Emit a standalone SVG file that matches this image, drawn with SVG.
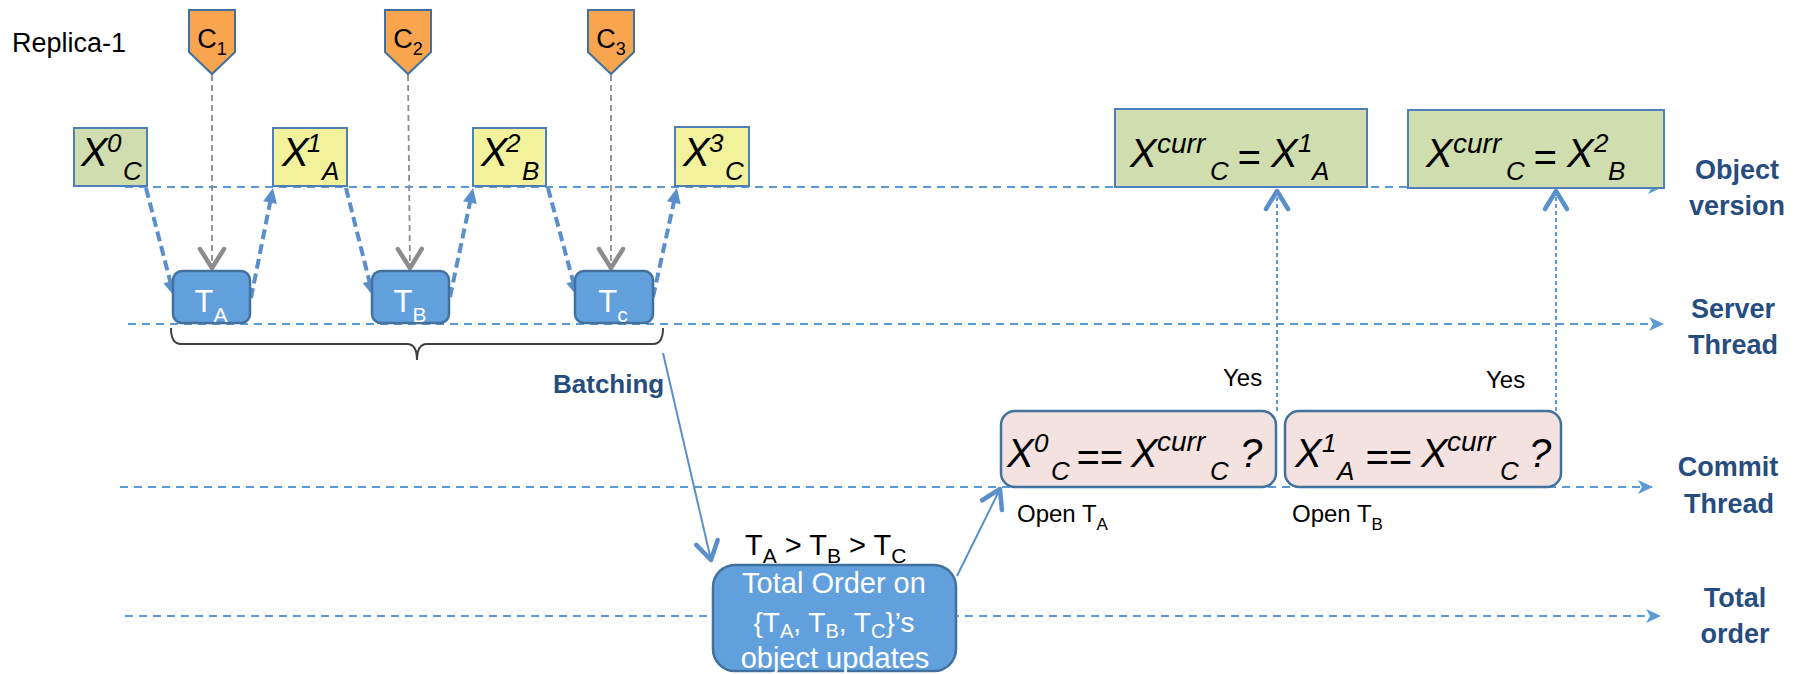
<svg xmlns="http://www.w3.org/2000/svg" width="1797" height="674" viewBox="0 0 1797 674">
<defs>
<style>
  text { font-family: "Liberation Sans", Arial, sans-serif; fill: #000; }
  .lane { fill: none; stroke: #5b9bd5; stroke-width: 2; stroke-dasharray: 8 6; }
  .flow { fill: none; stroke: #5b8fcb; stroke-width: 4; stroke-dasharray: 10 5; }
  .req { fill: none; stroke: #8c8c8c; stroke-width: 1.8; stroke-dasharray: 6 4; }
  .yes { fill: none; stroke: #5b9bd5; stroke-width: 2; stroke-dasharray: 4 3; }
  .thin { fill: none; stroke: #5b8fcb; stroke-width: 2; }
  .brace { fill: none; stroke: #404040; stroke-width: 2; }
  .ver { stroke: #4f7fb8; stroke-width: 2; }
  .green { fill: #d0ddae; }
  .yellow { fill: #f1f29b; }
  .txn { fill: #62a0dd; stroke: #41719c; stroke-width: 2.5; }
  .check { fill: #f3e2e0; stroke: #41719c; stroke-width: 2.5; }
  .client { fill: #f9a54f; stroke: #41719c; stroke-width: 2; }
  .m { font-style: italic; }
  .lanelbl { font-weight: bold; fill: #264d7e; font-size: 27px; text-anchor: middle; }
  .step { font-weight: bold; fill: #264d7e; font-size: 26px; }
  .wt { fill: #fff; }
</style>
<marker id="tri" markerUnits="userSpaceOnUse" viewBox="-10 -9 20 18" markerWidth="20" markerHeight="18" refX="0" refY="0" orient="auto" overflow="visible">
  <path d="M-7,-7 L8,0 L-7,7 Z" fill="#5b8fcb"/>
</marker>
<marker id="stealth" markerUnits="userSpaceOnUse" viewBox="-16 -8 18 16" markerWidth="18" markerHeight="16" refX="0" refY="0" orient="auto" overflow="visible">
  <path d="M-14,-7 L1,0 L-14,7 L-10,0 Z" fill="#5b9bd5"/>
</marker>
<marker id="vgray" markerUnits="userSpaceOnUse" viewBox="-24 -16 28 32" markerWidth="28" markerHeight="32" refX="0" refY="0" orient="auto" overflow="visible">
  <path d="M-19,-12 L0,0 L-19,12" fill="none" stroke="#8c8c8c" stroke-width="4.5" stroke-linejoin="round" stroke-linecap="round"/>
</marker>
<marker id="vblue" markerUnits="userSpaceOnUse" viewBox="-24 -16 28 32" markerWidth="28" markerHeight="32" refX="0" refY="0" orient="auto" overflow="visible">
  <path d="M-18,-11 L0,0 L-18,11" fill="none" stroke="#5b8fcb" stroke-width="4.5" stroke-linejoin="round" stroke-linecap="round"/>
</marker>
</defs>

<rect width="1797" height="674" fill="#fff"/>

<!-- timelines -->
<g id="lanes">
  <path class="lane" d="M125,187 H1662" marker-end="url(#stealth)"/>
  <path class="lane" d="M128,324 H1663" marker-end="url(#stealth)"/>
  <path class="lane" d="M120,487 H1652" marker-end="url(#stealth)"/>
  <path class="lane" d="M125,616 H1660" marker-end="url(#stealth)"/>
</g>

<g id="connectors">
  <!-- client requests -->
  <path class="req" d="M212,75 V268" marker-end="url(#vgray)"/>
  <path class="req" d="M408,75 L410,268" marker-end="url(#vgray)"/>
  <path class="req" d="M611,75 V268" marker-end="url(#vgray)"/>
  <!-- read / write of object versions -->
  <path class="flow" d="M146,188 L172,288.3" marker-end="url(#tri)"/>
  <path class="flow" d="M251,298 L271.4,195.8" marker-end="url(#tri)"/>
  <path class="flow" d="M346,188 L371.1,288.2" marker-end="url(#tri)"/>
  <path class="flow" d="M450,297 L471.4,195.8" marker-end="url(#tri)"/>
  <path class="flow" d="M548,188 L574.9,288.3" marker-end="url(#tri)"/>
  <path class="flow" d="M653,297 L675.3,195.8" marker-end="url(#tri)"/>
  <!-- batch brace -->
  <path class="brace" d="M171,328 Q171,344 181,344 H407 Q417,344 417,360 Q417,344 427,344 H653 Q663,344 663,328"/>
  <!-- batching and ordering -->
  <path class="thin" d="M663,353 L711,560" marker-end="url(#vblue)"/>
  <path class="thin" d="M957,576 L1000,489" marker-end="url(#vblue)"/>
  <!-- successful checks update current version -->
  <path class="yes" d="M1277,411 V191" marker-end="url(#vblue)"/>
  <path class="yes" d="M1556,411 V191" marker-end="url(#vblue)"/>
</g>

<g id="title">
  <text x="12" y="52" font-size="27">Replica-1</text>
</g>

<g id="c1">
  <path class="client" d="M189,10 H235 V52 L212,74 L189,52 Z"/>
  <text x="212" y="48" font-size="27" text-anchor="middle">C<tspan font-size="18" dy="7">1</tspan></text>
</g>
<g id="c2">
  <path class="client" d="M385,10 H431 V52 L408,74 L385,52 Z"/>
  <text x="408" y="48" font-size="27" text-anchor="middle">C<tspan font-size="18" dy="7">2</tspan></text>
</g>
<g id="c3">
  <path class="client" d="M588,10 H634 V52 L611,74 L588,52 Z"/>
  <text x="611" y="48" font-size="27" text-anchor="middle">C<tspan font-size="18" dy="7">3</tspan></text>
</g>

<g id="x0c">
  <rect class="green ver" x="74" y="128" width="73" height="58"/>
  <text class="m"><tspan x="81" y="166" font-size="40">X</tspan><tspan x="107" y="152" font-size="26">0</tspan><tspan x="123" y="180" font-size="26">C</tspan></text>
</g>
<g id="x1a">
  <rect class="yellow ver" x="273" y="128" width="74" height="58"/>
  <text class="m"><tspan x="282" y="166" font-size="40">X</tspan><tspan x="307" y="152" font-size="26">1</tspan><tspan x="322" y="180" font-size="26">A</tspan></text>
</g>
<g id="x2b">
  <rect class="yellow ver" x="473" y="128" width="73" height="58"/>
  <text class="m"><tspan x="481" y="166" font-size="40">X</tspan><tspan x="506" y="152" font-size="26">2</tspan><tspan x="522" y="180" font-size="26">B</tspan></text>
</g>
<g id="x3c">
  <rect class="yellow ver" x="675" y="127" width="74" height="59"/>
  <text class="m"><tspan x="683" y="166" font-size="40">X</tspan><tspan x="709" y="152" font-size="26">3</tspan><tspan x="725" y="180" font-size="26">C</tspan></text>
</g>

<g id="ta">
  <rect class="txn" x="173" y="271" width="77" height="52" rx="9"/>
  <text class="wt" x="211" y="312" font-size="31" text-anchor="middle">T<tspan font-size="21" dy="10">A</tspan></text>
</g>
<g id="tb">
  <rect class="txn" x="372" y="271" width="77" height="52" rx="9"/>
  <text class="wt" x="410" y="312" font-size="31" text-anchor="middle">T<tspan font-size="21" dy="10">B</tspan></text>
</g>
<g id="tc">
  <rect class="txn" x="575" y="271" width="78" height="52" rx="9"/>
  <text class="wt" x="613" y="312" font-size="31" text-anchor="middle">T<tspan font-size="21" dy="10">c</tspan></text>
</g>

<g id="batching">
  <text class="step" x="553" y="393">Batching</text>
</g>

<g id="total-order">
  <text x="745" y="555" font-size="29">T<tspan font-size="21" dy="8">A</tspan><tspan dy="-8"> &gt; T</tspan><tspan font-size="21" dy="8">B</tspan><tspan dy="-8"> &gt; T</tspan><tspan font-size="21" dy="8">C</tspan></text>
  <rect class="txn" x="713" y="565" width="243" height="106" rx="22"/>
  <text class="wt" x="834" y="593" font-size="29" text-anchor="middle">Total Order on</text>
  <text class="wt" x="834" y="632" font-size="28" text-anchor="middle">{T<tspan font-size="20" dy="6">A</tspan><tspan dy="-6">, T</tspan><tspan font-size="20" dy="6">B</tspan><tspan dy="-6">, T</tspan><tspan font-size="20" dy="6">C</tspan><tspan dy="-6">}’s</tspan></text>
  <text class="wt" x="835" y="668" font-size="29" text-anchor="middle">object updates</text>
</g>

<g id="check-a">
  <rect class="check" x="1001" y="411" width="275" height="76" rx="14"/>
  <text class="m"><tspan x="1007" y="467" font-size="40">X</tspan><tspan x="1034" y="452" font-size="26">0</tspan><tspan x="1051" y="480" font-size="26">C</tspan><tspan x="1076" y="471" font-size="40">==</tspan><tspan x="1131" y="467" font-size="40">X</tspan><tspan x="1157" y="451" font-size="28">curr</tspan><tspan x="1210" y="480" font-size="26">C</tspan><tspan x="1240" y="467" font-size="40">?</tspan></text>
  <text x="1017" y="522" font-size="24">Open T<tspan font-size="17" dy="8">A</tspan></text>
</g>
<g id="check-b">
  <rect class="check" x="1285" y="411" width="276" height="76" rx="14"/>
  <text class="m"><tspan x="1295" y="467" font-size="40">X</tspan><tspan x="1322" y="452" font-size="26">1</tspan><tspan x="1337" y="480" font-size="26">A</tspan><tspan x="1365" y="471" font-size="40">==</tspan><tspan x="1421" y="467" font-size="40">X</tspan><tspan x="1447" y="451" font-size="28">curr</tspan><tspan x="1500" y="480" font-size="26">C</tspan><tspan x="1529" y="467" font-size="40">?</tspan></text>
  <text x="1292" y="522" font-size="24">Open T<tspan font-size="17" dy="8">B</tspan></text>
</g>

<g id="yes-a"><text x="1223" y="386" font-size="24">Yes</text></g>
<g id="yes-b"><text x="1486" y="388" font-size="24">Yes</text></g>

<g id="cur-a">
  <rect class="green ver" x="1115" y="109" width="252" height="78"/>
  <text class="m"><tspan x="1130" y="167" font-size="40">X</tspan><tspan x="1157" y="153" font-size="28">curr</tspan><tspan x="1210" y="180" font-size="26">C</tspan><tspan x="1237" y="171" font-size="40">=</tspan><tspan x="1271" y="167" font-size="40">X</tspan><tspan x="1298" y="152" font-size="26">1</tspan><tspan x="1312" y="180" font-size="26">A</tspan></text>
</g>
<g id="cur-b">
  <rect class="green ver" x="1408" y="110" width="256" height="78"/>
  <text class="m"><tspan x="1426" y="167" font-size="40">X</tspan><tspan x="1453" y="153" font-size="28">curr</tspan><tspan x="1506" y="180" font-size="26">C</tspan><tspan x="1533" y="171" font-size="40">=</tspan><tspan x="1567" y="167" font-size="40">X</tspan><tspan x="1594" y="152" font-size="26">2</tspan><tspan x="1608" y="180" font-size="26">B</tspan></text>
</g>

<g id="lane-labels">
  <text class="lanelbl" x="1737" y="179">Object</text>
  <text class="lanelbl" x="1737" y="215">version</text>
  <text class="lanelbl" x="1733" y="318">Server</text>
  <text class="lanelbl" x="1733" y="354">Thread</text>
  <text class="lanelbl" x="1728" y="476">Commit</text>
  <text class="lanelbl" x="1729" y="513">Thread</text>
  <text class="lanelbl" x="1735" y="607">Total</text>
  <text class="lanelbl" x="1735" y="643">order</text>
</g>
</svg>
